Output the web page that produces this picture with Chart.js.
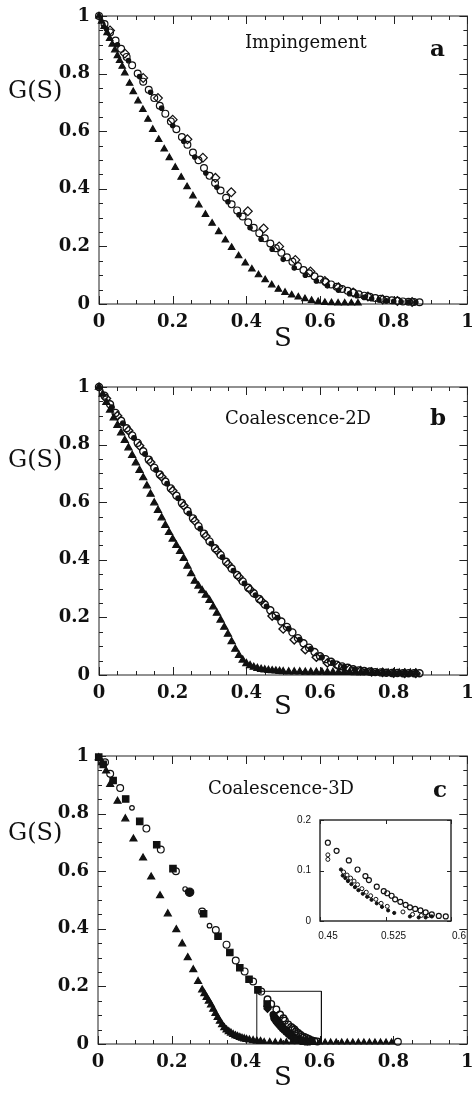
<!DOCTYPE html>
<html>
<head>
<meta charset="utf-8">
<script src="https://cdn.jsdelivr.net/npm/chart.js@4.4.1/dist/chart.umd.min.js"></script>
<style>
  html, body { margin: 0; padding: 0; background: #fff; }
  body { position: relative; width: 473px; height: 1096px; overflow: hidden; }
  canvas { position: absolute; left: 0; }
  .lbl { position: absolute; font-family: "DejaVu Serif", serif; color: #111; line-height: 1; white-space: nowrap; transform: translateY(-50%); }
  .ctr { transform: translate(-50%, -50%); }
</style>
</head>
<body>
<canvas id="panelA" width="473" height="356" style="top:0px"></canvas>
<canvas id="panelB" width="473" height="356" style="top:371px"></canvas>
<canvas id="panelC" width="473" height="356" style="top:740px"></canvas>
<canvas id="insetC" width="183" height="140" style="left:290px;top:810px"></canvas>

<div class="lbl" style="left:8px;top:90px;font-size:24px">G(S)</div>
<div class="lbl ctr" style="left:283px;top:337px;font-size:26px">S</div>
<div class="lbl" style="left:245px;top:42px;font-size:18px">Impingement</div>
<div class="lbl" style="left:430px;top:47px;font-size:23px;font-weight:bold">a</div>

<div class="lbl" style="left:8px;top:459px;font-size:24px">G(S)</div>
<div class="lbl ctr" style="left:283px;top:705px;font-size:26px">S</div>
<div class="lbl" style="left:225px;top:418px;font-size:18px">Coalescence-2D</div>
<div class="lbl" style="left:430px;top:416px;font-size:23px;font-weight:bold">b</div>

<div class="lbl" style="left:8px;top:832px;font-size:24px">G(S)</div>
<div class="lbl ctr" style="left:283px;top:1076px;font-size:26px">S</div>
<div class="lbl" style="left:208px;top:788px;font-size:18px">Coalescence-3D</div>
<div class="lbl" style="left:433px;top:788px;font-size:23px;font-weight:bold">c</div>

<script>
// axis ticks
const mainTicks = [0, 0.2, 0.4, 0.6, 0.8, 1];
const minorTicks = [0.05, 0.1, 0.15, 0.25, 0.3, 0.35, 0.45, 0.5, 0.55, 0.65, 0.7, 0.75, 0.85, 0.9, 0.95];
const insetXTicks = [0.45, 0.525, 0.6];
const insetYTicks = [0, 0.1, 0.2];

// shared S grid for the dense circle chains
const sGrid15 = [0, 0.015, 0.03, 0.045, 0.06, 0.075, 0.09, 0.105, 0.12, 0.135,
  0.15, 0.165, 0.18, 0.195, 0.21, 0.225, 0.24, 0.255, 0.27, 0.285,
  0.3, 0.315, 0.33, 0.345, 0.36, 0.375, 0.39, 0.405, 0.42, 0.435,
  0.45, 0.465, 0.48, 0.495, 0.51, 0.525, 0.54, 0.555, 0.57, 0.585,
  0.6, 0.615, 0.63, 0.645, 0.66, 0.675, 0.69, 0.705, 0.72, 0.735,
  0.75, 0.765, 0.78, 0.795, 0.81, 0.825, 0.84, 0.855, 0.87];

// panel a - Impingement
const aTriS = [0, 0.007, 0.014, 0.022, 0.029, 0.036, 0.043, 0.05, 0.056, 0.063,
  0.07, 0.083, 0.093, 0.106, 0.119, 0.133, 0.146, 0.162, 0.177, 0.191,
  0.207, 0.223, 0.239, 0.255, 0.271, 0.289, 0.307, 0.325, 0.343, 0.36,
  0.379, 0.397, 0.415, 0.433, 0.451, 0.469, 0.487, 0.505, 0.523, 0.541,
  0.559, 0.577, 0.595, 0.613, 0.631, 0.649, 0.667, 0.685, 0.703];
const aTriG = [1.0, 0.982, 0.963, 0.942, 0.922, 0.902, 0.882, 0.862, 0.845, 0.825,
  0.802, 0.766, 0.737, 0.705, 0.675, 0.641, 0.606, 0.571, 0.538, 0.508,
  0.474, 0.44, 0.407, 0.375, 0.344, 0.311, 0.28, 0.251, 0.222, 0.196,
  0.167, 0.142, 0.121, 0.101, 0.084, 0.066, 0.051, 0.04, 0.031, 0.024,
  0.018, 0.012, 0.008, 0.005, 0.004, 0.003, 0.003, 0.003, 0.003];
const aCircG = [1.0, 0.972, 0.943, 0.915, 0.886, 0.858, 0.829, 0.8, 0.772, 0.744,
  0.715, 0.688, 0.661, 0.634, 0.607, 0.58, 0.553, 0.526, 0.499, 0.472,
  0.445, 0.42, 0.394, 0.369, 0.346, 0.325, 0.304, 0.284, 0.265, 0.246,
  0.228, 0.21, 0.194, 0.178, 0.162, 0.147, 0.132, 0.118, 0.107, 0.096,
  0.085, 0.076, 0.068, 0.06, 0.052, 0.046, 0.04, 0.034, 0.029, 0.025,
  0.021, 0.018, 0.015, 0.013, 0.011, 0.009, 0.008, 0.007, 0.006];
const aDotS = [0.02, 0.05, 0.08, 0.11, 0.14, 0.17, 0.2, 0.23, 0.26, 0.29,
  0.32, 0.35, 0.38, 0.41, 0.44, 0.47, 0.5, 0.53, 0.56, 0.59,
  0.62, 0.65, 0.68, 0.7, 0.72, 0.74, 0.76, 0.78, 0.8, 0.82, 0.84, 0.86];
const aDotG = [0.955, 0.9, 0.845, 0.79, 0.735, 0.68, 0.62, 0.565, 0.51, 0.455,
  0.405, 0.355, 0.31, 0.265, 0.225, 0.19, 0.155, 0.125, 0.1, 0.08,
  0.063, 0.048, 0.036, 0.029, 0.023, 0.018, 0.014, 0.011, 0.009, 0.008, 0.007, 0.006];
const aDiaS = [0.03, 0.07, 0.12, 0.16, 0.2, 0.24, 0.282, 0.316, 0.359, 0.404,
  0.447, 0.489, 0.533, 0.574, 0.613, 0.65, 0.69, 0.73, 0.77, 0.81, 0.85];
const aDiaG = [0.95, 0.87, 0.785, 0.715, 0.64, 0.572, 0.508, 0.438, 0.388, 0.322,
  0.262, 0.2, 0.153, 0.113, 0.08, 0.058, 0.04, 0.026, 0.016, 0.01, 0.007];

// panel b - Coalescence-2D
const bTriS = [0, 0.01, 0.02, 0.03, 0.04, 0.05, 0.06, 0.07, 0.08, 0.09,
  0.1, 0.11, 0.12, 0.13, 0.14, 0.15, 0.16, 0.17, 0.18, 0.19,
  0.2, 0.21, 0.22, 0.23, 0.24, 0.25, 0.26, 0.27, 0.28, 0.29,
  0.3, 0.31, 0.32, 0.33, 0.34, 0.35, 0.36, 0.37, 0.38, 0.39,
  0.4, 0.41, 0.42, 0.43, 0.44, 0.45, 0.46, 0.47, 0.48, 0.49, 0.5,
  0.515, 0.53, 0.545, 0.56, 0.575, 0.59, 0.605, 0.62, 0.635, 0.65, 0.665, 0.68,
  0.695, 0.71, 0.725, 0.74, 0.755, 0.77, 0.785, 0.8, 0.815, 0.83, 0.845, 0.86];
const bTriG = [1.0, 0.975, 0.947, 0.92, 0.893, 0.867, 0.841, 0.815, 0.789, 0.763,
  0.737, 0.711, 0.685, 0.657, 0.628, 0.598, 0.572, 0.546, 0.52, 0.495,
  0.472, 0.45, 0.429, 0.405, 0.378, 0.352, 0.326, 0.309, 0.293, 0.277,
  0.259, 0.237, 0.215, 0.191, 0.166, 0.142, 0.116, 0.09, 0.068, 0.052,
  0.04, 0.033, 0.027, 0.023, 0.02, 0.018, 0.016, 0.015, 0.014, 0.013, 0.012,
  0.011, 0.011, 0.011, 0.01, 0.01, 0.01, 0.01, 0.009, 0.009, 0.009, 0.009, 0.009,
  0.008, 0.008, 0.008, 0.008, 0.008, 0.008, 0.007, 0.007, 0.007, 0.007, 0.007, 0.007];
const bCircG = [1.0, 0.97, 0.94, 0.91, 0.883, 0.857, 0.832, 0.806, 0.777, 0.748,
  0.72, 0.696, 0.672, 0.648, 0.623, 0.597, 0.57, 0.544, 0.517, 0.491,
  0.464, 0.44, 0.417, 0.393, 0.37, 0.347, 0.325, 0.303, 0.284, 0.264,
  0.245, 0.225, 0.206, 0.186, 0.167, 0.148, 0.128, 0.11, 0.095, 0.08,
  0.065, 0.055, 0.046, 0.036, 0.03, 0.025, 0.02, 0.016, 0.014, 0.012,
  0.01, 0.009, 0.008, 0.007, 0.007, 0.006, 0.006, 0.006, 0.006];
const bDiaS = [0.02, 0.05, 0.08, 0.11, 0.14, 0.17, 0.2, 0.23, 0.26, 0.29,
  0.32, 0.35, 0.38, 0.41, 0.44, 0.47, 0.5, 0.53, 0.56, 0.59,
  0.62, 0.65, 0.68, 0.71, 0.74, 0.77, 0.8, 0.83, 0.86];
const bDiaG = [0.96, 0.9, 0.849, 0.796, 0.739, 0.688, 0.64, 0.588, 0.535, 0.482,
  0.432, 0.385, 0.34, 0.297, 0.258, 0.205, 0.16, 0.122, 0.088, 0.062,
  0.042, 0.031, 0.021, 0.015, 0.011, 0.009, 0.007, 0.006, 0.006];
const bDotS = [0.035, 0.065, 0.095, 0.125, 0.155, 0.185, 0.215, 0.245, 0.275, 0.305,
  0.335, 0.365, 0.395, 0.425, 0.455, 0.485, 0.515, 0.545, 0.575, 0.605,
  0.635, 0.665, 0.695, 0.725, 0.755, 0.785, 0.815, 0.845];
const bDotG = [0.93, 0.874, 0.823, 0.767, 0.712, 0.664, 0.614, 0.561, 0.508, 0.456,
  0.409, 0.362, 0.318, 0.277, 0.238, 0.199, 0.161, 0.122, 0.09, 0.062,
  0.043, 0.028, 0.019, 0.013, 0.01, 0.008, 0.007, 0.006];

// panel c - Coalescence-3D
const cTriS = [0.002, 0.011, 0.022, 0.033, 0.053, 0.074, 0.096, 0.122, 0.144, 0.168,
  0.189, 0.212, 0.228, 0.243, 0.258, 0.271, 0.282, 0.288, 0.294, 0.3,
  0.306, 0.312, 0.318, 0.324, 0.33, 0.336, 0.342, 0.348, 0.354, 0.36,
  0.366, 0.372, 0.378, 0.384, 0.39, 0.396, 0.402, 0.41, 0.42, 0.43, 0.44];
const cTriG = [0.994, 0.977, 0.948, 0.901, 0.843, 0.782, 0.712, 0.646, 0.58, 0.515,
  0.452, 0.397, 0.348, 0.3, 0.258, 0.217, 0.188, 0.175, 0.162, 0.149,
  0.136, 0.121, 0.106, 0.092, 0.079, 0.067, 0.057, 0.049, 0.043, 0.038,
  0.033, 0.029, 0.026, 0.023, 0.02, 0.018, 0.016, 0.014, 0.012, 0.01, 0.009];
const cFlatS = [0.45, 0.465, 0.48, 0.495, 0.51, 0.525, 0.54, 0.555, 0.57, 0.585,
  0.6, 0.615, 0.63, 0.645, 0.66, 0.675, 0.69, 0.705, 0.72, 0.735,
  0.75, 0.765, 0.78, 0.795];
const cFlatG = [0.008, 0.008, 0.007, 0.007, 0.007, 0.007, 0.007, 0.006, 0.006, 0.006,
  0.006, 0.006, 0.006, 0.006, 0.006, 0.006, 0.006, 0.006, 0.006, 0.006,
  0.006, 0.006, 0.006, 0.006];
const cSqS = [0.002, 0.014, 0.041, 0.075, 0.113, 0.159, 0.203, 0.286, 0.325, 0.357, 0.384, 0.409, 0.433, 0.458];
const cSqG = [0.996, 0.971, 0.915, 0.851, 0.773, 0.692, 0.609, 0.452, 0.374, 0.318, 0.265, 0.225, 0.188, 0.139];
const cBigDotS = [0.248];
const cBigDotG = [0.527];
const cCircS = [0.019, 0.033, 0.06, 0.131, 0.17, 0.211, 0.282, 0.319, 0.348, 0.373, 0.397, 0.42, 0.442, 0.812];
const cCircG = [0.978, 0.938, 0.889, 0.748, 0.675, 0.6, 0.46, 0.396, 0.345, 0.29, 0.252, 0.217, 0.182, 0.008];
const cSmallS = [0.092, 0.236, 0.302];
const cSmallG = [0.82, 0.538, 0.411];
const cBoxS = [0.43, 0.43, 0.605, 0.605];
const cBoxG = [0, 0.183, 0.183, 0];

// inset (zoom of panel c)
const inCircS = [0.459, 0.469, 0.483, 0.493, 0.502, 0.506, 0.515, 0.523, 0.527, 0.532,
  0.536, 0.542, 0.548, 0.553, 0.559, 0.565, 0.571, 0.578, 0.586, 0.594];
const inCircG = [0.155, 0.139, 0.12, 0.102, 0.089, 0.081, 0.068, 0.059, 0.055, 0.05,
  0.043, 0.038, 0.032, 0.027, 0.024, 0.021, 0.017, 0.013, 0.01, 0.009];
const inDiaS = [0.459, 0.459, 0.477, 0.481, 0.485, 0.489, 0.493, 0.498, 0.503, 0.508,
  0.514, 0.52, 0.527, 0.545, 0.556, 0.566, 0.574];
const inDiaG = [0.131, 0.122, 0.097, 0.091, 0.085, 0.079, 0.072, 0.064, 0.057, 0.05,
  0.043, 0.035, 0.029, 0.018, 0.013, 0.011, 0.011];
const inDotS = [0.474, 0.476, 0.479, 0.482, 0.486, 0.49, 0.494, 0.499, 0.504, 0.509,
  0.515, 0.521, 0.528, 0.535, 0.553, 0.563, 0.571, 0.578];
const inDotG = [0.102, 0.09, 0.085, 0.079, 0.073, 0.067, 0.061, 0.054, 0.048, 0.042,
  0.035, 0.028, 0.021, 0.016, 0.009, 0.007, 0.007, 0.009];

const INK = '#111';

function pts(xs, ys) {
  return xs.map((x, i) => ({ x: x, y: ys[i] }));
}

function marker(label, xs, ys, style, radius, filled, bw) {
  return {
    label: label,
    data: pts(xs, ys),
    pointStyle: style,
    pointRadius: radius,
    pointBorderWidth: bw || 1.2,
    pointBackgroundColor: filled ? INK : 'rgba(255,255,255,0)',
    pointBorderColor: INK,
    showLine: false,
    clip: false
  };
}

// box + inward ticks on all four sides
const framePlugin = {
  id: 'frame',
  beforeDatasetsDraw(chart, args, opts) {
    const ctx = chart.ctx;
    const a = chart.chartArea;
    const x = chart.scales.x, y = chart.scales.y;
    ctx.save();
    ctx.strokeStyle = '#222';
    ctx.lineWidth = opts.lineWidth;
    ctx.strokeRect(a.left, a.top, a.right - a.left, a.bottom - a.top);
    ctx.lineWidth = 1;
    function line(x1, y1, x2, y2) {
      ctx.beginPath(); ctx.moveTo(x1, y1); ctx.lineTo(x2, y2); ctx.stroke();
    }
    function ticksX(vals, len) {
      vals.forEach(v => {
        const p = Math.round(x.getPixelForValue(v)) + 0.5;
        line(p, a.top, p, a.top + len);
        line(p, a.bottom, p, a.bottom - len);
      });
    }
    function ticksY(vals, len) {
      vals.forEach(v => {
        const p = Math.round(y.getPixelForValue(v)) + 0.5;
        line(a.left, p, a.left + len, p);
        line(a.right, p, a.right - len, p);
      });
    }
    ticksX(opts.xMajor, opts.majorLen);
    ticksY(opts.yMajor, opts.majorLen);
    if (opts.minor) {
      ticksX(opts.minor, opts.minorLen);
      ticksY(opts.minor, opts.minorLen);
    }
    ctx.restore();
  }
};

function makeChart(id, datasets, cfg) {
  return new Chart(document.getElementById(id), {
    type: 'scatter',
    data: { datasets: datasets },
    options: {
      responsive: false,
      animation: false,
      devicePixelRatio: 1,
      events: [],
      layout: { padding: { top: cfg.top, right: cfg.right, left: 0, bottom: 0 } },
      plugins: {
        legend: { display: false },
        tooltip: { enabled: false },
        frame: cfg.frame
      },
      scales: {
        x: {
          type: 'linear', min: cfg.xMin, max: cfg.xMax,
          grid: { display: false, drawTicks: false },
          border: { display: false },
          afterBuildTicks: s => { s.ticks = cfg.xTicks.map(v => ({ value: v })); },
          afterFit: s => { s.height = cfg.xAxisH; s.paddingLeft = 0; s.paddingRight = 0; },
          ticks: {
            font: cfg.font, color: INK, padding: cfg.xPad, labelOffset: cfg.xLabelOffset,
            maxRotation: 0, autoSkip: false, callback: v => String(v)
          }
        },
        y: {
          type: 'linear', min: cfg.yMin, max: cfg.yMax,
          grid: { display: false, drawTicks: false },
          border: { display: false },
          afterBuildTicks: s => { s.ticks = cfg.yTicks.map(v => ({ value: v })); },
          afterFit: s => { s.width = cfg.yAxisW; s.paddingTop = 0; s.paddingBottom = 0; },
          ticks: {
            font: cfg.font, color: INK, padding: cfg.yPad,
            autoSkip: false, callback: v => String(v)
          }
        }
      }
    },
    plugins: [framePlugin]
  });
}

function mainCfg(yAxisW, right) {
  return {
    top: 16, right: right, yAxisW: yAxisW, xAxisH: 52,
    xMin: 0, xMax: 1, yMin: 0, yMax: 1,
    xTicks: mainTicks, yTicks: mainTicks,
    font: { family: '"DejaVu Serif", serif', size: 18, weight: 'bold' },
    xPad: 8, yPad: 9, xLabelOffset: 0,
    frame: { lineWidth: 1, xMajor: mainTicks, yMajor: mainTicks, minor: minorTicks, majorLen: 8, minorLen: 4 }
  };
}

makeChart('panelA', [
  marker('dots', aDotS, aDotG, 'circle', 2.2, true),
  marker('triangles', aTriS, aTriG, 'triangle', 3.7, true),
  marker('circles', sGrid15, aCircG, 'circle', 3.4, false),
  marker('diamonds', aDiaS, aDiaG, 'rectRot', 4.4, false)
], mainCfg(99, 4));

makeChart('panelB', [
  marker('dots', bDotS, bDotG, 'circle', 2.4, true),
  marker('triangles', bTriS, bTriG, 'triangle', 4.1, true),
  marker('circles', sGrid15, bCircG, 'circle', 3.5, false, 1.4),
  marker('diamonds', bDiaS, bDiaG, 'rectRot', 4.2, false, 1.4)
], mainCfg(99, 4));

makeChart('panelC', [
  marker('dots', inDotS, inDotG, 'circle', 3, true),
  marker('big dot', cBigDotS, cBigDotG, 'circle', 4.2, true),
  marker('squares', cSqS, cSqG, 'rect', 4.5, true),
  marker('triangles', cTriS, cTriG, 'triangle', 4, true),
  marker('flat', cFlatS, cFlatG, 'triangle', 3.2, true),
  marker('circles', cCircS, cCircG, 'circle', 3.4, false),
  marker('small circles', cSmallS, cSmallG, 'circle', 2.3, false),
  marker('inset circles', inCircS, inCircG, 'circle', 3.3, false, 1.4),
  marker('inset diamonds', inDiaS, inDiaG, 'rectRot', 3.6, true),
  {
    label: 'box', data: pts(cBoxS, cBoxG), showLine: true, pointRadius: 0,
    borderColor: INK, borderWidth: 1, tension: 0, fill: false, clip: false
  }
], mainCfg(98, 5));

makeChart('insetC', [
  marker('dots', inDotS, inDotG, 'circle', 1.6, true, 1),
  marker('circles', inCircS, inCircG, 'circle', 2.5, false, 1.2),
  marker('diamonds', inDiaS, inDiaG, 'circle', 2, false, 1)
], {
  top: 10, right: 22, yAxisW: 30, xAxisH: 29,
  xMin: 0.45, xMax: 0.6, yMin: 0, yMax: 0.2,
  xTicks: insetXTicks, yTicks: insetYTicks,
  font: { family: '"Liberation Sans", sans-serif', size: 10 },
  xPad: 9, yPad: 9, xLabelOffset: 8,
  frame: { lineWidth: 1.4, xMajor: insetXTicks, yMajor: insetYTicks, minor: null, majorLen: 4, minorLen: 0 }
});
</script>
</body>
</html>
